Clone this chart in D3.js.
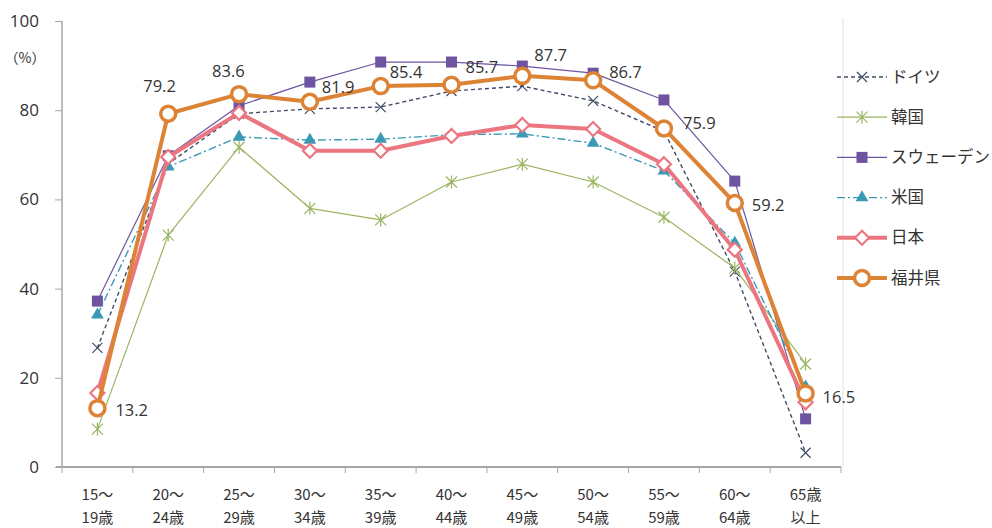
<!DOCTYPE html>
<html>
<head>
<meta charset="utf-8">
<script src="https://cdn.jsdelivr.net/npm/d3@7"></script>
<style>
  body { margin: 0; background: #fff; }
  text { font-family: "Noto Sans CJK JP", "Noto Sans", sans-serif; fill: #333; }
</style>
</head>
<body>
<div id="chart"></div>
<script>
const categories = ["15～\n19歳", "20～\n24歳", "25～\n29歳", "30～\n34歳", "35～\n39歳", "40～\n44歳",
                    "45～\n49歳", "50～\n54歳", "55～\n59歳", "60～\n64歳", "65歳\n以上"];
const yTicks = [0, 20, 40, 60, 80, 100];

const germany = [26.7, 68.0, 79.2, 80.3, 80.7, 84.3, 85.4, 82.1, 75.3, 43.8, 3.2];
const korea   = [8.5, 52.0, 71.7, 58.0, 55.4, 63.9, 67.9, 63.9, 56.0, 44.6, 23.1];
const sweden  = [37.2, 69.8, 81.0, 86.3, 90.8, 90.8, 89.9, 88.3, 82.3, 64.1, 10.8];
const usa     = [34.1, 67.3, 74.0, 73.3, 73.5, 74.5, 74.7, 72.6, 66.4, 50.2, 18.0];
const japan   = [16.6, 69.5, 79.4, 70.9, 70.9, 74.2, 76.7, 75.8, 67.9, 48.7, 14.5];
const fukui   = [13.2, 79.2, 83.6, 81.9, 85.4, 85.7, 87.7, 86.7, 75.9, 59.2, 16.5];

const seriesNames = ["ドイツ", "韓国", "スウェーデン", "米国", "日本", "福井県"];

const series = [
  {name: seriesNames[0], values: germany, color: "#3f4b66", width: 1.4, dash: "4,3", marker: "x"},
  {name: seriesNames[1], values: korea, color: "#9bb561", width: 1.2, dash: null, marker: "star"},
  {name: seriesNames[2], values: sweden, color: "#6e54a0", width: 1.2, dash: null, marker: "square"},
  {name: seriesNames[3], values: usa, color: "#3a9ab5", width: 1.4, dash: "8,3,2,3", marker: "triangle"},
  {name: seriesNames[4], values: japan, color: "#ec7680", width: 4, dash: null, marker: "diamond"},
  {name: seriesNames[5], values: fukui, color: "#dc8336", width: 4, dash: null, marker: "circle"}
];

// label offsets for 福井県 values (text start, baseline)
const labelDx = [18, -25, -27, 12, 9, 14, 12, 16, 19, 17, 17];
const labelDy = [8, -22, -17, -9, -8, -12, -15, -2, 1, 8, 10];

const svgWidth = 992;
const svgHeight = 528;
const margin = {top: 21, right: 151, bottom: 61, left: 62};
const plotWidth = svgWidth - margin.left - margin.right;
const plotHeight = svgHeight - margin.top - margin.bottom;

const svg = d3.select("#chart")
  .append("svg")
    .attr("width", svgWidth)
    .attr("height", svgHeight);

const g = svg.append("g")
  .attr("transform", `translate(${margin.left},${margin.top})`);

const x = d3.scaleBand()
  .domain(categories)
  .range([0, plotWidth]);

const y = d3.scaleLinear()
  .domain([0, 100])
  .range([plotHeight, 0]);

const cx = d => x(d) + x.bandwidth() / 2;

// faint right border
g.append("line")
  .attr("x1", plotWidth + 2).attr("x2", plotWidth + 2)
  .attr("y1", -3).attr("y2", plotHeight)
  .attr("stroke", "#ececec")
  .attr("stroke-width", 1.5);

// y axis
g.append("g")
  .call(d3.axisLeft(y).tickValues(yTicks).tickSize(7).tickPadding(16))
  .call(a => a.select(".domain").attr("stroke", "#a6a6a6").attr("stroke-width", 1.5).attr("d", `M0,${plotHeight}V0`))
  .call(a => a.selectAll(".tick line").attr("stroke", "#a6a6a6"))
  .call(a => a.selectAll(".tick text").attr("font-size", 17).attr("fill", "#333")
    .style("font-family", "'Open Sans', 'Noto Sans', sans-serif"));

g.append("text")
  .attr("x", -37).attr("y", 42)
  .attr("text-anchor", "middle")
  .attr("font-size", 14)
  .text("（%）");

// x axis
const xAxis = g.append("g")
  .attr("transform", `translate(0,${plotHeight})`)
  .call(d3.axisBottom(x).tickSize(0).tickFormat(""))
  .call(a => a.select(".domain").attr("stroke", "#a6a6a6").attr("stroke-width", 2)
    .attr("d", `M-6,0H${plotWidth}`));

xAxis.selectAll(".boundary")
  .data(d3.range(categories.length + 1))
  .join("line")
    .attr("x1", i => i * x.bandwidth())
    .attr("x2", i => i * x.bandwidth())
    .attr("y1", 0).attr("y2", 6)
    .attr("stroke", "#a6a6a6");

// two-line category labels, one text element per line
categories.forEach(c => {
  c.split("\n").forEach((l, i) => {
    g.append("text")
      .attr("x", cx(c))
      .attr("y", plotHeight + 33 + i * 23)
      .attr("text-anchor", "middle")
      .attr("font-size", 15)
      .text(l);
  });
});

// marker drawing
function drawMarker(sel, type, color, px, py) {
  if (type === "x") {
    const s = 5;
    sel.append("path")
      .attr("d", `M${px - s},${py - s}L${px + s},${py + s}M${px - s},${py + s}L${px + s},${py - s}`)
      .attr("stroke", color).attr("stroke-width", 1.2).attr("fill", "none");
  } else if (type === "star") {
    const s = 5.5;
    sel.append("path")
      .attr("d", `M${px - s},${py - s}L${px + s},${py + s}M${px - s},${py + s}L${px + s},${py - s}M${px},${py - s - 1}L${px},${py + s + 1}`)
      .attr("stroke", color).attr("stroke-width", 1.2).attr("fill", "none");
  } else if (type === "square") {
    sel.append("rect")
      .attr("x", px - 5.5).attr("y", py - 5.5)
      .attr("width", 11).attr("height", 11)
      .attr("fill", color);
  } else if (type === "triangle") {
    sel.append("path")
      .attr("d", d3.symbol(d3.symbolTriangle, 70)())
      .attr("transform", `translate(${px},${py})`)
      .attr("fill", color);
  } else if (type === "diamond") {
    const s = 7;
    sel.append("path")
      .attr("d", `M${px},${py - s}L${px + s},${py}L${px},${py + s}L${px - s},${py}Z`)
      .attr("fill", "#fff").attr("stroke", color).attr("stroke-width", 2.2);
  } else if (type === "circle") {
    sel.append("circle")
      .attr("cx", px).attr("cy", py).attr("r", 7.5)
      .attr("fill", "#fff").attr("stroke", color).attr("stroke-width", 3.5);
  }
}

const line = d3.line()
  .x((d, i) => cx(categories[i]))
  .y(d => y(d));

series.forEach(s => {
  const sg = g.append("g");
  sg.append("path")
    .attr("d", line(s.values))
    .attr("fill", "none")
    .attr("stroke", s.color)
    .attr("stroke-width", s.width)
    .attr("stroke-dasharray", s.dash)
    .attr("stroke-linejoin", "round");
  s.values.forEach((v, i) => drawMarker(sg, s.marker, s.color, cx(categories[i]), y(v)));
});

// 福井県 data labels
g.selectAll(".dlabel")
  .data(fukui)
  .join("text")
    .attr("x", (d, i) => cx(categories[i]) + labelDx[i])
    .attr("y", (d, i) => y(d) + labelDy[i])
    .attr("font-size", 16.5)
    .attr("fill", "#2a2a2a")
    .style("font-family", "'Open Sans', 'Noto Sans', sans-serif")
    .text(d => d.toFixed(1));

// legend
const legend = svg.append("g")
  .attr("transform", "translate(837,77)");

series.forEach((s, i) => {
  const ly = i * 40.2;
  const lg = legend.append("g");
  lg.append("line")
    .attr("x1", 0).attr("x2", 50)
    .attr("y1", ly).attr("y2", ly)
    .attr("stroke", s.color)
    .attr("stroke-width", s.width)
    .attr("stroke-dasharray", s.dash);
  drawMarker(lg, s.marker, s.color, 25, ly);
  lg.append("text")
    .attr("x", 54).attr("y", ly + 5.5)
    .attr("font-size", 16.5)
    .text(s.name);
});
</script>
</body>
</html>
